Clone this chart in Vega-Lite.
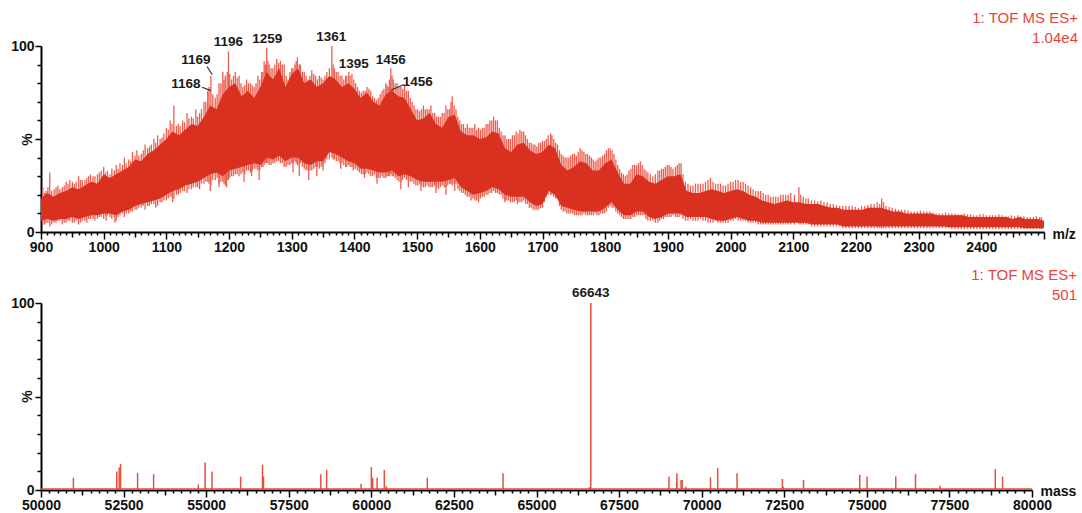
{
"$schema": "https://vega.github.io/schema/vega-lite/v6.json",
"padding": {"left": 10, "top": 11, "right": 1, "bottom": 0},
"background": "white",
"config": {
  "font": "Liberation Sans",
  "view": {"stroke": null},
  "axis": {"domainColor": "#000", "domainWidth": 2, "tickColor": "#000", "tickWidth": 1.5, "labelColor": "#111", "labelFont": "Liberation Sans", "labelFontSize": 14, "labelFontWeight": "bold", "grid": false, "labelOverlap": false, "labelBound": false, "labelFlush": false, "titleFont": "Liberation Sans", "titleFontSize": 14, "titleFontWeight": "bold", "titleColor": "#111"}
},
"datasets": {
"env": [
{"mz":900,"hi":18,"lo":6},{"mz":910,"hi":21,"lo":7},{"mz":920,"hi":19,"lo":6},{"mz":930,"hi":21,"lo":7},{"mz":940,"hi":22,"lo":7},{"mz":950,"hi":24,"lo":8},{"mz":960,"hi":23,"lo":7},{"mz":970,"hi":25,"lo":8},{"mz":980,"hi":27,"lo":9},{"mz":990,"hi":26,"lo":9},
{"mz":1000,"hi":31,"lo":10},{"mz":1010,"hi":29,"lo":10},{"mz":1020,"hi":31,"lo":9},{"mz":1030,"hi":33,"lo":11},{"mz":1040,"hi":35,"lo":12},{"mz":1050,"hi":39,"lo":14},{"mz":1060,"hi":38,"lo":15},{"mz":1070,"hi":42,"lo":16},{"mz":1080,"hi":44,"lo":17},{"mz":1090,"hi":47,"lo":18},
{"mz":1100,"hi":50,"lo":20},{"mz":1110,"hi":54,"lo":22},{"mz":1120,"hi":52,"lo":23},{"mz":1130,"hi":55,"lo":25},{"mz":1140,"hi":58,"lo":26},{"mz":1150,"hi":57,"lo":27},{"mz":1160,"hi":62,"lo":29},{"mz":1170,"hi":68,"lo":31},{"mz":1180,"hi":66,"lo":32},{"mz":1190,"hi":74,"lo":30},
{"mz":1200,"hi":78,"lo":33},{"mz":1210,"hi":80,"lo":34},{"mz":1220,"hi":73,"lo":35},{"mz":1230,"hi":76,"lo":36},{"mz":1240,"hi":72,"lo":37},{"mz":1250,"hi":78,"lo":36},{"mz":1260,"hi":86,"lo":40},{"mz":1270,"hi":82,"lo":39},{"mz":1280,"hi":88,"lo":41},{"mz":1290,"hi":78,"lo":38},
{"mz":1300,"hi":85,"lo":40},{"mz":1310,"hi":88,"lo":40},{"mz":1320,"hi":80,"lo":37},{"mz":1330,"hi":82,"lo":36},{"mz":1340,"hi":78,"lo":38},{"mz":1350,"hi":80,"lo":38},{"mz":1360,"hi":84,"lo":43},{"mz":1370,"hi":82,"lo":42},{"mz":1380,"hi":78,"lo":40},{"mz":1390,"hi":80,"lo":38},
{"mz":1400,"hi":77,"lo":37},{"mz":1410,"hi":72,"lo":34},{"mz":1420,"hi":75,"lo":34},{"mz":1430,"hi":70,"lo":33},{"mz":1440,"hi":68,"lo":32},{"mz":1450,"hi":74,"lo":32},{"mz":1460,"hi":76,"lo":33},{"mz":1470,"hi":73,"lo":30},{"mz":1480,"hi":72,"lo":31},{"mz":1490,"hi":66,"lo":30},
{"mz":1500,"hi":60,"lo":28},{"mz":1510,"hi":61,"lo":27},{"mz":1520,"hi":64,"lo":27},{"mz":1530,"hi":58,"lo":27},{"mz":1540,"hi":56,"lo":27},{"mz":1550,"hi":62,"lo":28},{"mz":1560,"hi":63,"lo":29},{"mz":1570,"hi":54,"lo":24},{"mz":1580,"hi":52,"lo":22},{"mz":1590,"hi":52,"lo":20},
{"mz":1600,"hi":50,"lo":21},{"mz":1610,"hi":51,"lo":22},{"mz":1620,"hi":54,"lo":24},{"mz":1630,"hi":53,"lo":23},{"mz":1640,"hi":45,"lo":20},{"mz":1650,"hi":43,"lo":19},{"mz":1660,"hi":47,"lo":19},{"mz":1670,"hi":48,"lo":19},{"mz":1680,"hi":44,"lo":16},{"mz":1690,"hi":42,"lo":14},
{"mz":1700,"hi":43,"lo":15},{"mz":1710,"hi":47,"lo":22},{"mz":1720,"hi":45,"lo":20},{"mz":1730,"hi":36,"lo":14},{"mz":1740,"hi":33,"lo":13},{"mz":1750,"hi":35,"lo":12},{"mz":1760,"hi":38,"lo":11},{"mz":1770,"hi":37,"lo":11},{"mz":1780,"hi":33,"lo":11},{"mz":1790,"hi":33,"lo":11},
{"mz":1800,"hi":37,"lo":13},{"mz":1810,"hi":39,"lo":16},{"mz":1820,"hi":32,"lo":12},{"mz":1830,"hi":26,"lo":9},{"mz":1840,"hi":26,"lo":9},{"mz":1850,"hi":31,"lo":11},{"mz":1860,"hi":30,"lo":11},{"mz":1870,"hi":27,"lo":8},{"mz":1880,"hi":26,"lo":7},{"mz":1890,"hi":28,"lo":8},
{"mz":1900,"hi":30,"lo":10},{"mz":1910,"hi":30,"lo":10},{"mz":1920,"hi":31,"lo":10},{"mz":1930,"hi":22,"lo":8},{"mz":1940,"hi":21,"lo":8},{"mz":1950,"hi":21,"lo":8},{"mz":1960,"hi":22,"lo":8},{"mz":1970,"hi":23,"lo":7},{"mz":1980,"hi":22,"lo":6},{"mz":1990,"hi":21,"lo":6},
{"mz":2000,"hi":22,"lo":7},{"mz":2010,"hi":23,"lo":8},{"mz":2020,"hi":22,"lo":7},{"mz":2030,"hi":20,"lo":6},{"mz":2040,"hi":19,"lo":6},{"mz":2050,"hi":17,"lo":5},{"mz":2060,"hi":16,"lo":5},{"mz":2070,"hi":15,"lo":5},{"mz":2080,"hi":16,"lo":5},{"mz":2090,"hi":17,"lo":5},
{"mz":2100,"hi":16,"lo":5},{"mz":2110,"hi":16,"lo":5},{"mz":2120,"hi":15,"lo":5},{"mz":2130,"hi":15,"lo":4},{"mz":2140,"hi":15,"lo":4},{"mz":2150,"hi":14,"lo":4},{"mz":2160,"hi":13,"lo":4},{"mz":2170,"hi":13,"lo":4},{"mz":2180,"hi":12,"lo":3},{"mz":2190,"hi":12,"lo":3},
{"mz":2200,"hi":12,"lo":3},{"mz":2210,"hi":12,"lo":3},{"mz":2220,"hi":13,"lo":3},{"mz":2230,"hi":13,"lo":3},{"mz":2240,"hi":13,"lo":3},{"mz":2250,"hi":12,"lo":3},{"mz":2260,"hi":11,"lo":3},{"mz":2270,"hi":11,"lo":3},{"mz":2280,"hi":10,"lo":3},{"mz":2290,"hi":10,"lo":3},
{"mz":2300,"hi":10,"lo":3},{"mz":2310,"hi":10,"lo":3},{"mz":2320,"hi":10,"lo":3},{"mz":2330,"hi":9,"lo":3},{"mz":2340,"hi":9,"lo":3},{"mz":2350,"hi":9,"lo":2.5},{"mz":2360,"hi":9,"lo":2.5},{"mz":2370,"hi":9,"lo":2.5},{"mz":2380,"hi":8,"lo":2.5},{"mz":2390,"hi":8,"lo":2.5},
{"mz":2400,"hi":8,"lo":2.5},{"mz":2410,"hi":8,"lo":2.5},{"mz":2420,"hi":8,"lo":2.5},{"mz":2430,"hi":8,"lo":2.5},{"mz":2440,"hi":8,"lo":2.5},{"mz":2450,"hi":7,"lo":2.5},{"mz":2460,"hi":8,"lo":2.5},{"mz":2470,"hi":7,"lo":2},{"mz":2480,"hi":7,"lo":2},{"mz":2490,"hi":7,"lo":2},{"mz":2500,"hi":6,"lo":2}
],
"sticks": [
{"mz":903,"lo":4,"hi":24},{"mz":908,"lo":5,"hi":22},{"mz":914,"lo":3,"hi":32},{"mz":921,"lo":5,"hi":23},{"mz":927,"lo":6,"hi":25},{"mz":934,"lo":4,"hi":24},{"mz":940,"lo":5,"hi":27},{"mz":946,"lo":6,"hi":28},{"mz":953,"lo":5,"hi":26},{"mz":960,"lo":4,"hi":30},
{"mz":966,"lo":6,"hi":28},{"mz":973,"lo":5,"hi":29},{"mz":979,"lo":7,"hi":31},{"mz":986,"lo":6,"hi":30},{"mz":993,"lo":8,"hi":32},{"mz":1000,"lo":7,"hi":35},{"mz":1006,"lo":9,"hi":33},{"mz":1013,"lo":7,"hi":34},{"mz":1020,"lo":6,"hi":36},{"mz":1026,"lo":9,"hi":37},
{"mz":1033,"lo":8,"hi":40},{"mz":1040,"lo":10,"hi":39},{"mz":1046,"lo":11,"hi":43},{"mz":1053,"lo":12,"hi":44},{"mz":1060,"lo":13,"hi":42},{"mz":1066,"lo":12,"hi":47},{"mz":1073,"lo":14,"hi":46},{"mz":1080,"lo":15,"hi":50},{"mz":1086,"lo":14,"hi":52},{"mz":1093,"lo":16,"hi":51},
{"mz":1100,"lo":17,"hi":56},{"mz":1106,"lo":19,"hi":60},{"mz":1112,"lo":18,"hi":68},{"mz":1119,"lo":20,"hi":58},{"mz":1126,"lo":22,"hi":60},{"mz":1133,"lo":21,"hi":64},{"mz":1140,"lo":23,"hi":62},{"mz":1147,"lo":24,"hi":66},{"mz":1153,"lo":23,"hi":64},{"mz":1160,"lo":26,"hi":70},
{"mz":1166,"lo":27,"hi":76},{"mz":1171,"lo":25,"hi":84},{"mz":1178,"lo":28,"hi":72},{"mz":1184,"lo":26,"hi":80},{"mz":1190,"lo":27,"hi":86},{"mz":1194,"lo":25,"hi":84},{"mz":1199,"lo":28,"hi":97},{"mz":1204,"lo":30,"hi":82},{"mz":1210,"lo":31,"hi":86},{"mz":1216,"lo":30,"hi":84},
{"mz":1222,"lo":32,"hi":78},{"mz":1228,"lo":33,"hi":82},{"mz":1234,"lo":32,"hi":80},{"mz":1240,"lo":34,"hi":78},{"mz":1246,"lo":33,"hi":84},{"mz":1252,"lo":35,"hi":86},{"mz":1256,"lo":36,"hi":92},{"mz":1260,"lo":37,"hi":99},{"mz":1264,"lo":36,"hi":90},{"mz":1270,"lo":37,"hi":88},
{"mz":1276,"lo":38,"hi":93},{"mz":1282,"lo":37,"hi":92},{"mz":1288,"lo":35,"hi":90},{"mz":1294,"lo":36,"hi":82},{"mz":1300,"lo":37,"hi":88},{"mz":1305,"lo":38,"hi":90},{"mz":1309,"lo":36,"hi":94},{"mz":1314,"lo":37,"hi":90},{"mz":1320,"lo":34,"hi":86},{"mz":1326,"lo":33,"hi":82},
{"mz":1332,"lo":33,"hi":87},{"mz":1338,"lo":35,"hi":84},{"mz":1344,"lo":34,"hi":84},{"mz":1350,"lo":36,"hi":82},{"mz":1356,"lo":39,"hi":86},{"mz":1364,"lo":40,"hi":100},{"mz":1368,"lo":39,"hi":88},{"mz":1374,"lo":38,"hi":86},{"mz":1380,"lo":37,"hi":84},{"mz":1386,"lo":35,"hi":84},
{"mz":1391,"lo":36,"hi":86},{"mz":1396,"lo":35,"hi":85},{"mz":1402,"lo":34,"hi":80},{"mz":1408,"lo":32,"hi":76},{"mz":1414,"lo":31,"hi":76},{"mz":1420,"lo":32,"hi":78},{"mz":1426,"lo":30,"hi":76},{"mz":1432,"lo":31,"hi":72},{"mz":1438,"lo":29,"hi":72},{"mz":1444,"lo":30,"hi":76},
{"mz":1450,"lo":29,"hi":80},{"mz":1454,"lo":30,"hi":78},{"mz":1458,"lo":31,"hi":88},{"mz":1462,"lo":30,"hi":82},{"mz":1468,"lo":28,"hi":80},{"mz":1474,"lo":27,"hi":78},{"mz":1480,"lo":29,"hi":79},{"mz":1486,"lo":28,"hi":76},{"mz":1492,"lo":27,"hi":70},{"mz":1498,"lo":25,"hi":66},
{"mz":1504,"lo":26,"hi":65},{"mz":1510,"lo":24,"hi":68},{"mz":1516,"lo":25,"hi":66},{"mz":1522,"lo":24,"hi":68},{"mz":1528,"lo":25,"hi":64},{"mz":1534,"lo":23,"hi":62},{"mz":1540,"lo":25,"hi":64},{"mz":1546,"lo":24,"hi":68},{"mz":1552,"lo":26,"hi":66},{"mz":1556,"lo":25,"hi":73},
{"mz":1562,"lo":26,"hi":66},{"mz":1568,"lo":22,"hi":60},{"mz":1574,"lo":21,"hi":58},{"mz":1580,"lo":19,"hi":58},{"mz":1586,"lo":20,"hi":56},{"mz":1592,"lo":17,"hi":58},{"mz":1598,"lo":18,"hi":56},{"mz":1604,"lo":19,"hi":56},{"mz":1610,"lo":20,"hi":58},{"mz":1616,"lo":21,"hi":60},
{"mz":1622,"lo":22,"hi":62},{"mz":1628,"lo":21,"hi":60},{"mz":1634,"lo":20,"hi":54},{"mz":1640,"lo":17,"hi":52},{"mz":1646,"lo":17,"hi":50},{"mz":1652,"lo":16,"hi":52},{"mz":1658,"lo":17,"hi":54},{"mz":1664,"lo":16,"hi":55},{"mz":1670,"lo":17,"hi":54},{"mz":1676,"lo":15,"hi":50},
{"mz":1682,"lo":13,"hi":48},{"mz":1688,"lo":12,"hi":47},{"mz":1694,"lo":12,"hi":48},{"mz":1700,"lo":13,"hi":49},{"mz":1706,"lo":19,"hi":50},{"mz":1713,"lo":20,"hi":53},{"mz":1718,"lo":19,"hi":50},{"mz":1724,"lo":18,"hi":47},{"mz":1730,"lo":12,"hi":42},{"mz":1736,"lo":11,"hi":40},
{"mz":1742,"lo":10,"hi":40},{"mz":1748,"lo":10,"hi":42},{"mz":1754,"lo":9,"hi":41},{"mz":1760,"lo":9,"hi":45},{"mz":1766,"lo":10,"hi":43},{"mz":1772,"lo":9,"hi":42},{"mz":1778,"lo":9,"hi":40},{"mz":1784,"lo":10,"hi":38},{"mz":1790,"lo":9,"hi":40},{"mz":1796,"lo":10,"hi":41},
{"mz":1802,"lo":11,"hi":44},{"mz":1808,"lo":14,"hi":45},{"mz":1814,"lo":13,"hi":42},{"mz":1820,"lo":10,"hi":36},{"mz":1826,"lo":8,"hi":32},{"mz":1832,"lo":7,"hi":30},{"mz":1838,"lo":7,"hi":33},{"mz":1844,"lo":8,"hi":36},{"mz":1850,"lo":9,"hi":36},{"mz":1856,"lo":9,"hi":38},
{"mz":1862,"lo":9,"hi":34},{"mz":1868,"lo":6,"hi":32},{"mz":1876,"lo":6,"hi":30},{"mz":1884,"lo":5,"hi":33},{"mz":1890,"lo":7,"hi":34},{"mz":1896,"lo":8,"hi":35},{"mz":1902,"lo":8,"hi":36},{"mz":1908,"lo":9,"hi":34},{"mz":1915,"lo":8,"hi":36},{"mz":1921,"lo":9,"hi":37},
{"mz":1928,"lo":6,"hi":27},{"mz":1936,"lo":7,"hi":25},{"mz":1944,"lo":6,"hi":26},{"mz":1952,"lo":7,"hi":26},{"mz":1960,"lo":6,"hi":27},{"mz":1968,"lo":5,"hi":29},{"mz":1976,"lo":6,"hi":26},{"mz":1984,"lo":5,"hi":26},{"mz":1992,"lo":5,"hi":25},{"mz":2000,"lo":6,"hi":27},
{"mz":2008,"lo":7,"hi":28},{"mz":2016,"lo":6,"hi":27},{"mz":2024,"lo":6,"hi":26},{"mz":2032,"lo":5,"hi":24},{"mz":2040,"lo":5,"hi":22},{"mz":2048,"lo":4,"hi":22},{"mz":2056,"lo":4,"hi":20},{"mz":2064,"lo":4,"hi":19},{"mz":2072,"lo":4,"hi":19},{"mz":2080,"lo":4,"hi":20},
{"mz":2088,"lo":4,"hi":20},{"mz":2096,"lo":4,"hi":21},{"mz":2109,"lo":4,"hi":24},{"mz":2116,"lo":4,"hi":19},{"mz":2124,"lo":4,"hi":18},{"mz":2134,"lo":3,"hi":17},{"mz":2144,"lo":3,"hi":17},{"mz":2154,"lo":3,"hi":16},{"mz":2164,"lo":3,"hi":15},{"mz":2174,"lo":3,"hi":14},
{"mz":2184,"lo":2,"hi":14},{"mz":2194,"lo":2,"hi":14},{"mz":2204,"lo":2,"hi":13},{"mz":2214,"lo":2,"hi":14},{"mz":2224,"lo":2,"hi":15},{"mz":2234,"lo":2,"hi":16},{"mz":2241,"lo":2,"hi":18},{"mz":2248,"lo":2,"hi":14},{"mz":2258,"lo":2,"hi":13},{"mz":2268,"lo":2,"hi":12},
{"mz":2278,"lo":2,"hi":12},{"mz":2288,"lo":2,"hi":11},{"mz":2298,"lo":2,"hi":11},{"mz":2308,"lo":2,"hi":11},{"mz":2318,"lo":2,"hi":11},{"mz":2328,"lo":2,"hi":10},{"mz":2338,"lo":2,"hi":10},{"mz":2348,"lo":2,"hi":10},{"mz":2358,"lo":1.5,"hi":10},{"mz":2368,"lo":1.5,"hi":9.5},
{"mz":2378,"lo":1.5,"hi":9.5},{"mz":2388,"lo":1.5,"hi":9},{"mz":2398,"lo":1.5,"hi":9.5},{"mz":2408,"lo":1.5,"hi":9},{"mz":2418,"lo":1.5,"hi":9},{"mz":2428,"lo":1.5,"hi":9.5},{"mz":2438,"lo":1.5,"hi":8.5},{"mz":2448,"lo":1.5,"hi":9},{"mz":2458,"lo":1.5,"hi":9},{"mz":2468,"lo":1.5,"hi":8.5},
{"mz":2478,"lo":1.5,"hi":8},{"mz":2488,"lo":1.5,"hi":8.5},{"mz":2496,"lo":1.5,"hi":8},
{"mz":906,"lo":4,"hi":21},{"mz":911,"lo":5,"hi":24},{"mz":917,"lo":4,"hi":22},{"mz":924,"lo":5,"hi":24},{"mz":930,"lo":6,"hi":23},{"mz":937,"lo":5,"hi":25},{"mz":943,"lo":6,"hi":26},{"mz":950,"lo":5,"hi":27},{"mz":956,"lo":6,"hi":27},{"mz":963,"lo":5,"hi":28},
{"mz":970,"lo":6,"hi":28},{"mz":976,"lo":7,"hi":30},{"mz":983,"lo":7,"hi":30},{"mz":990,"lo":7,"hi":31},{"mz":996,"lo":8,"hi":33},
{"mz":1003,"lo":9,"hi":32},{"mz":1010,"lo":8,"hi":31},{"mz":1017,"lo":8,"hi":33},{"mz":1023,"lo":8,"hi":34},{"mz":1030,"lo":10,"hi":36},{"mz":1036,"lo":10,"hi":37},{"mz":1043,"lo":11,"hi":38},{"mz":1050,"lo":12,"hi":41},{"mz":1056,"lo":13,"hi":41},{"mz":1063,"lo":14,"hi":44},
{"mz":1070,"lo":14,"hi":45},{"mz":1076,"lo":15,"hi":47},{"mz":1083,"lo":13,"hi":48},{"mz":1090,"lo":16,"hi":50},{"mz":1096,"lo":17,"hi":53},{"mz":1103,"lo":18,"hi":55},{"mz":1109,"lo":19,"hi":58},{"mz":1116,"lo":20,"hi":57},{"mz":1122,"lo":21,"hi":57},{"mz":1129,"lo":22,"hi":59},
{"mz":1136,"lo":23,"hi":61},{"mz":1143,"lo":24,"hi":61},{"mz":1150,"lo":24,"hi":62},{"mz":1156,"lo":26,"hi":66},{"mz":1163,"lo":27,"hi":70},{"mz":1168,"lo":26,"hi":78},{"mz":1174,"lo":28,"hi":74},{"mz":1181,"lo":29,"hi":74},{"mz":1187,"lo":27,"hi":80},{"mz":1192,"lo":26,"hi":82},
{"mz":1197,"lo":28,"hi":86},{"mz":1201,"lo":29,"hi":85},{"mz":1207,"lo":30,"hi":84},{"mz":1213,"lo":31,"hi":83},{"mz":1219,"lo":31,"hi":80},{"mz":1225,"lo":31,"hi":79},{"mz":1231,"lo":33,"hi":80},{"mz":1237,"lo":33,"hi":79},{"mz":1243,"lo":34,"hi":80},{"mz":1249,"lo":33,"hi":82},
{"mz":1254,"lo":35,"hi":86},{"mz":1258,"lo":37,"hi":90},{"mz":1262,"lo":37,"hi":92},{"mz":1267,"lo":36,"hi":88},{"mz":1273,"lo":37,"hi":90},{"mz":1279,"lo":38,"hi":91},{"mz":1285,"lo":37,"hi":90},{"mz":1291,"lo":35,"hi":84},{"mz":1297,"lo":36,"hi":86},{"mz":1302,"lo":37,"hi":88},
{"mz":1307,"lo":37,"hi":92},{"mz":1312,"lo":36,"hi":90},{"mz":1317,"lo":35,"hi":86},{"mz":1323,"lo":33,"hi":84},{"mz":1329,"lo":33,"hi":84},{"mz":1335,"lo":34,"hi":85},{"mz":1341,"lo":35,"hi":82},{"mz":1347,"lo":35,"hi":83},{"mz":1353,"lo":37,"hi":84},{"mz":1360,"lo":39,"hi":88},
{"mz":1366,"lo":39,"hi":90},{"mz":1371,"lo":38,"hi":86},{"mz":1377,"lo":37,"hi":84},{"mz":1383,"lo":36,"hi":82},{"mz":1388,"lo":35,"hi":84},{"mz":1393,"lo":35,"hi":84},{"mz":1399,"lo":34,"hi":82},{"mz":1405,"lo":33,"hi":78},{"mz":1411,"lo":31,"hi":75},{"mz":1417,"lo":31,"hi":76},
{"mz":1423,"lo":31,"hi":77},{"mz":1429,"lo":30,"hi":73},{"mz":1435,"lo":29,"hi":71},{"mz":1441,"lo":29,"hi":74},{"mz":1447,"lo":29,"hi":77},{"mz":1452,"lo":30,"hi":79},{"mz":1456,"lo":30,"hi":82},{"mz":1460,"lo":30,"hi":84},{"mz":1465,"lo":29,"hi":80},{"mz":1471,"lo":27,"hi":78},
{"mz":1477,"lo":28,"hi":77},{"mz":1483,"lo":28,"hi":76},{"mz":1489,"lo":27,"hi":72},{"mz":1495,"lo":26,"hi":68},{"mz":1501,"lo":25,"hi":66},{"mz":1507,"lo":25,"hi":66},{"mz":1513,"lo":24,"hi":66},{"mz":1519,"lo":24,"hi":66},{"mz":1525,"lo":24,"hi":64},{"mz":1531,"lo":24,"hi":62},
{"mz":1537,"lo":24,"hi":62},{"mz":1543,"lo":24,"hi":64},{"mz":1549,"lo":25,"hi":66},{"mz":1554,"lo":26,"hi":70},{"mz":1559,"lo":26,"hi":68},{"mz":1565,"lo":23,"hi":62},{"mz":1571,"lo":21,"hi":58},{"mz":1577,"lo":20,"hi":56},{"mz":1583,"lo":19,"hi":56},{"mz":1589,"lo":18,"hi":56},
{"mz":1595,"lo":17,"hi":55},{"mz":1601,"lo":18,"hi":55},{"mz":1607,"lo":19,"hi":56},{"mz":1613,"lo":20,"hi":58},{"mz":1619,"lo":21,"hi":60},{"mz":1625,"lo":21,"hi":60},{"mz":1631,"lo":20,"hi":56},{"mz":1637,"lo":18,"hi":52},{"mz":1643,"lo":17,"hi":50},{"mz":1649,"lo":16,"hi":50},
{"mz":1655,"lo":16,"hi":52},{"mz":1661,"lo":16,"hi":53},{"mz":1667,"lo":16,"hi":54},{"mz":1673,"lo":15,"hi":52},{"mz":1679,"lo":13,"hi":48},{"mz":1685,"lo":12,"hi":47},{"mz":1691,"lo":12,"hi":46},{"mz":1697,"lo":13,"hi":48},{"mz":1703,"lo":16,"hi":49},{"mz":1709,"lo":20,"hi":52},
{"mz":1715,"lo":20,"hi":52},{"mz":1721,"lo":18,"hi":48},{"mz":1727,"lo":14,"hi":44},{"mz":1733,"lo":11,"hi":41},{"mz":1739,"lo":10,"hi":40},{"mz":1745,"lo":10,"hi":41},{"mz":1751,"lo":9,"hi":42},{"mz":1757,"lo":9,"hi":43},{"mz":1763,"lo":9,"hi":44},{"mz":1769,"lo":9,"hi":42},
{"mz":1775,"lo":9,"hi":41},{"mz":1781,"lo":9,"hi":39},{"mz":1787,"lo":9,"hi":39},{"mz":1793,"lo":10,"hi":40},{"mz":1799,"lo":10,"hi":42},{"mz":1805,"lo":13,"hi":45},{"mz":1811,"lo":13,"hi":44},{"mz":1817,"lo":11,"hi":39},{"mz":1823,"lo":9,"hi":34},{"mz":1829,"lo":7,"hi":31},
{"mz":1835,"lo":7,"hi":31},{"mz":1841,"lo":7,"hi":34},{"mz":1847,"lo":8,"hi":36},{"mz":1853,"lo":9,"hi":37},{"mz":1859,"lo":9,"hi":36},{"mz":1865,"lo":7,"hi":33},{"mz":1872,"lo":6,"hi":31},{"mz":1880,"lo":5,"hi":31},{"mz":1887,"lo":6,"hi":33},{"mz":1893,"lo":7,"hi":34},
{"mz":1899,"lo":8,"hi":36},{"mz":1905,"lo":8,"hi":35},{"mz":1912,"lo":8,"hi":35},{"mz":1918,"lo":8,"hi":37},{"mz":1924,"lo":7,"hi":31},{"mz":1932,"lo":6,"hi":26},{"mz":1940,"lo":6,"hi":25},{"mz":1948,"lo":6,"hi":26},{"mz":1956,"lo":6,"hi":26},{"mz":1964,"lo":5,"hi":28},
{"mz":1972,"lo":5,"hi":27},{"mz":1980,"lo":5,"hi":26},{"mz":1988,"lo":5,"hi":25},{"mz":1996,"lo":5,"hi":26},{"mz":2004,"lo":6,"hi":27},{"mz":2012,"lo":6,"hi":28},{"mz":2020,"lo":6,"hi":27},{"mz":2028,"lo":5,"hi":25},{"mz":2036,"lo":5,"hi":23},{"mz":2044,"lo":4,"hi":22},
{"mz":2052,"lo":4,"hi":21},{"mz":2060,"lo":4,"hi":20},{"mz":2068,"lo":4,"hi":19},{"mz":2076,"lo":4,"hi":19},{"mz":2084,"lo":4,"hi":20},{"mz":2092,"lo":4,"hi":20},{"mz":2102,"lo":4,"hi":20},{"mz":2112,"lo":4,"hi":20},{"mz":2120,"lo":4,"hi":18},{"mz":2129,"lo":3,"hi":17},
{"mz":2139,"lo":3,"hi":16.5},{"mz":2149,"lo":3,"hi":16},{"mz":2159,"lo":3,"hi":15},{"mz":2169,"lo":3,"hi":14.5},{"mz":2179,"lo":2,"hi":14},{"mz":2189,"lo":2,"hi":14},{"mz":2199,"lo":2,"hi":13.5},{"mz":2209,"lo":2,"hi":14},{"mz":2219,"lo":2,"hi":14.5},{"mz":2229,"lo":2,"hi":15},
{"mz":2238,"lo":2,"hi":15},{"mz":2244,"lo":2,"hi":16},{"mz":2253,"lo":2,"hi":13.5},{"mz":2263,"lo":2,"hi":12.5},{"mz":2273,"lo":2,"hi":12},{"mz":2283,"lo":2,"hi":11.5},{"mz":2293,"lo":2,"hi":11},{"mz":2303,"lo":2,"hi":11.5},{"mz":2313,"lo":2,"hi":11},{"mz":2323,"lo":2,"hi":10.5},
{"mz":2333,"lo":2,"hi":10},{"mz":2343,"lo":2,"hi":10.5},{"mz":2353,"lo":1.5,"hi":10},{"mz":2363,"lo":1.5,"hi":9.5},{"mz":2373,"lo":1.5,"hi":10},{"mz":2383,"lo":1.5,"hi":9.5},{"mz":2393,"lo":1.5,"hi":9},{"mz":2403,"lo":1.5,"hi":9.5},{"mz":2413,"lo":1.5,"hi":9},{"mz":2423,"lo":1.5,"hi":9},
{"mz":2433,"lo":1.5,"hi":9},{"mz":2443,"lo":1.5,"hi":8.5},{"mz":2453,"lo":1.5,"hi":8.5},{"mz":2463,"lo":1.5,"hi":8.5},{"mz":2473,"lo":1.5,"hi":8},{"mz":2483,"lo":1.5,"hi":8},{"mz":2493,"lo":1.5,"hi":8},
{"mz":1004,"lo":6,"hi":12},{"mz":1018,"lo":5,"hi":12},{"mz":1110,"lo":16,"hi":24},{"mz":1170,"lo":22,"hi":34},{"mz":1184,"lo":24,"hi":34},{"mz":1196,"lo":24,"hi":36},{"mz":1224,"lo":27,"hi":38},{"mz":1236,"lo":30,"hi":40},
{"mz":1248,"lo":28,"hi":40},{"mz":1302,"lo":32,"hi":42},{"mz":1312,"lo":30,"hi":40},{"mz":1327,"lo":28,"hi":40},{"mz":1340,"lo":30,"hi":40},{"mz":1350,"lo":33,"hi":42},{"mz":1378,"lo":34,"hi":42},{"mz":1398,"lo":33,"hi":40},{"mz":1416,"lo":29,"hi":36},{"mz":1436,"lo":26,"hi":34},
{"mz":1474,"lo":23,"hi":33},{"mz":1486,"lo":24,"hi":32},{"mz":1506,"lo":22,"hi":30},{"mz":1530,"lo":21,"hi":30},{"mz":1546,"lo":20,"hi":30},{"mz":1560,"lo":22,"hi":30},{"mz":1586,"lo":17,"hi":24},{"mz":1598,"lo":16,"hi":24},{"mz":1640,"lo":16,"hi":22},{"mz":1660,"lo":15,"hi":22}
],
"leaders": [
{"mz":1165,"hi":89,"mz2":1173,"lo":84.7},
{"mz":1157,"hi":77.8,"mz2":1171,"lo":76},
{"mz":1479,"hi":79.3,"mz2":1458,"lo":76.2}
],
"peaks": [
{"mz":1131,"hi":79.8,"label":"1168"},
{"mz":1147,"hi":92.7,"label":"1169"},
{"mz":1199,"hi":102,"label":"1196"},
{"mz":1261,"hi":103.5,"label":"1259"},
{"mz":1363,"hi":105,"label":"1361"},
{"mz":1399,"hi":90.5,"label":"1395"},
{"mz":1458,"hi":92.5,"label":"1456"},
{"mz":1501,"hi":80.4,"label":"1456"}
],
"decon": [
{"mass":50981,"h":6.6},{"mass":52293,"h":9.9},{"mass":52366,"h":12},{"mass":52407,"h":14},{"mass":52924,"h":9},{"mass":53409,"h":8.4},{"mass":54762,"h":3},{"mass":54969,"h":14.7},{"mass":55176,"h":9.9},{"mass":56043,"h":7.2},
{"mass":56705,"h":13.5},{"mass":56736,"h":7.2},{"mass":58471,"h":8.4},{"mass":58647,"h":10.8},{"mass":59690,"h":3.4},{"mass":60000,"h":12.2},{"mass":60041,"h":6.6},{"mass":60176,"h":6.6},{"mass":60393,"h":10.8},{"mass":60455,"h":2},
{"mass":61694,"h":6.6},{"mass":63987,"h":9},{"mass":66600,"h":1.5},{"mass":66643,"h":100},{"mass":69010,"h":7.2},{"mass":69240,"h":4.5},{"mass":69250,"h":9},{"mass":69376,"h":5.4},{"mass":69410,"h":5.4},{"mass":69513,"h":1.8},
{"mass":70267,"h":6.7},{"mass":70485,"h":11.7},{"mass":71071,"h":9},{"mass":72443,"h":5.9},{"mass":72470,"h":1.8},{"mass":73082,"h":5.4},{"mass":74786,"h":8.1},{"mass":75007,"h":7.2},{"mass":75876,"h":7.2},{"mass":76473,"h":8.6},
{"mass":77217,"h":2.3},{"mass":78888,"h":11.2},{"mass":79109,"h":7.2}
]
},
"vconcat": [
{
  "width": 1003,
  "height": 186,
  "resolve": {"axis": {"x": "independent", "y": "independent"}},
  "layer": [
    {"data": {"name": "sticks"}, "mark": {"type": "rule", "color": "#ee5e4f", "strokeWidth": 1.3},
     "encoding": {
      "x": {"field": "mz", "type": "quantitative", "title": "m/z", "scale": {"domain": [900, 2500], "nice": false, "zero": false},
        "axis": {"tickCount": 160, "format": "d",
          "labelExpr": "datum.value % 100 === 0 && datum.value < 2500 ? datum.label : ''",
          "tickSize": {"condition": [{"test": "datum.value % 100 === 0", "value": 7}, {"test": "datum.value % 50 === 0", "value": 5}], "value": 3},
          "labelPadding": 1, "titleX": 1011, "titleY": 2, "titleAlign": "left", "titleBaseline": "middle", "titleAngle": 0}},
      "y": {"field": "lo", "type": "quantitative", "title": "%", "scale": {"domain": [0, 100], "nice": false},
        "axis": {"tickCount": 10,
          "labelExpr": "datum.value === 0 || datum.value === 100 ? datum.label : ''",
          "tickSize": {"condition": {"test": "datum.value === 0 || datum.value === 50 || datum.value === 100", "value": 6}, "value": 4},
          "labelPadding": 1, "titleX": -14, "titleY": 93, "titleAngle": 270, "titleAlign": "center", "titleBaseline": "middle"}},
      "y2": {"field": "hi"}}},
    {"data": {"name": "env"}, "mark": {"type": "area", "color": "#d9301f", "interpolate": "linear"},
     "encoding": {"x": {"field": "mz", "type": "quantitative", "axis": null}, "y": {"field": "hi", "type": "quantitative", "axis": null}, "y2": {"field": "lo"}}},
    {"data": {"name": "leaders"}, "mark": {"type": "rule", "color": "#333333", "strokeWidth": 1.2},
     "encoding": {"x": {"field": "mz", "type": "quantitative", "axis": null}, "x2": {"field": "mz2"}, "y": {"field": "hi", "type": "quantitative", "axis": null}, "y2": {"field": "lo"}}},
    {"data": {"name": "peaks"}, "mark": {"type": "text", "fontSize": 13.5, "fontWeight": "bold", "color": "#1a1a1a", "align": "center", "baseline": "middle"},
     "encoding": {"x": {"field": "mz", "type": "quantitative", "axis": null}, "y": {"field": "hi", "type": "quantitative", "axis": null}, "text": {"field": "label"}}},
    {"data": {"values": [{"k": 1}]}, "mark": {"type": "text", "align": "right", "baseline": "middle", "fontSize": 15, "color": "#e9443a", "dx": 34},
     "encoding": {"x": {"datum": 2500, "type": "quantitative", "axis": null}, "y": {"datum": 115, "type": "quantitative", "axis": null}, "text": {"value": "1: TOF MS ES+"}}},
    {"data": {"values": [{"k": 1}]}, "mark": {"type": "text", "align": "right", "baseline": "middle", "fontSize": 15, "color": "#e9443a", "dx": 34},
     "encoding": {"x": {"datum": 2500, "type": "quantitative", "axis": null}, "y": {"datum": 104.3, "type": "quantitative", "axis": null}, "text": {"value": "1.04e4"}}}
  ]
},
{
  "width": 991,
  "height": 187,
  "resolve": {"axis": {"x": "independent", "y": "independent"}},
  "layer": [
    {"data": {"name": "decon"}, "mark": {"type": "rule", "color": "#ea4e3d", "strokeWidth": 1.5},
     "encoding": {
      "x": {"field": "mass", "type": "quantitative", "title": "mass", "scale": {"domain": [50000, 80000], "nice": false, "zero": false},
        "axis": {"format": "d",
          "values": [50000,50250,50500,50750,51000,51250,51500,51750,52000,52250,52500,52750,53000,53250,53500,53750,54000,54250,54500,54750,55000,55250,55500,55750,56000,56250,56500,56750,57000,57250,57500,57750,58000,58250,58500,58750,59000,59250,59500,59750,60000,60250,60500,60750,61000,61250,61500,61750,62000,62250,62500,62750,63000,63250,63500,63750,64000,64250,64500,64750,65000,65250,65500,65750,66000,66250,66500,66750,67000,67250,67500,67750,68000,68250,68500,68750,69000,69250,69500,69750,70000,70250,70500,70750,71000,71250,71500,71750,72000,72250,72500,72750,73000,73250,73500,73750,74000,74250,74500,74750,75000,75250,75500,75750,76000,76250,76500,76750,77000,77250,77500,77750,78000,78250,78500,78750,79000,79250,79500,79750,80000],
          "labelExpr": "datum.value % 2500 === 0 ? datum.label : ''",
          "tickSize": {"condition": [{"test": "datum.value % 2500 === 0", "value": 7}, {"test": "datum.value % 1250 === 0", "value": 5}], "value": 3},
          "labelPadding": 1, "titleX": 999, "titleY": 1, "titleAlign": "left", "titleBaseline": "middle", "titleAngle": 0}},
      "y": {"field": "h", "type": "quantitative", "title": "%", "scale": {"domain": [0, 100], "nice": false},
        "axis": {"tickCount": 10,
          "labelExpr": "datum.value === 0 || datum.value === 100 ? datum.label : ''",
          "tickSize": {"condition": {"test": "datum.value === 0 || datum.value === 50 || datum.value === 100", "value": 6}, "value": 4},
          "labelPadding": 1, "titleX": -14, "titleY": 93, "titleAngle": 270, "titleAlign": "center", "titleBaseline": "middle"}},
      "y2": {"datum": 0}}},
    {"data": {"values": [{"k": 1}]}, "mark": {"type": "rule", "color": "#ea4e3d", "strokeWidth": 1.5},
     "encoding": {"x": {"datum": 50000, "type": "quantitative", "axis": null}, "x2": {"datum": 80000}, "y": {"datum": 0.6, "type": "quantitative", "axis": null}}},
    {"data": {"values": [{"mass": 66643, "h": 100, "label": "66643"}]}, "mark": {"type": "text", "fontSize": 13.5, "fontWeight": "bold", "color": "#1a1a1a", "align": "center", "baseline": "bottom", "dy": -3},
     "encoding": {"x": {"field": "mass", "type": "quantitative", "axis": null}, "y": {"field": "h", "type": "quantitative", "axis": null}, "text": {"field": "label"}}},
    {"data": {"values": [{"k": 1}]}, "mark": {"type": "text", "align": "right", "baseline": "middle", "fontSize": 15, "color": "#e9443a", "dx": 45},
     "encoding": {"x": {"datum": 80000, "type": "quantitative", "axis": null}, "y": {"datum": 115, "type": "quantitative", "axis": null}, "text": {"value": "1: TOF MS ES+"}}},
    {"data": {"values": [{"k": 1}]}, "mark": {"type": "text", "align": "right", "baseline": "middle", "fontSize": 15, "color": "#e9443a", "dx": 45},
     "encoding": {"x": {"datum": 80000, "type": "quantitative", "axis": null}, "y": {"datum": 104.3, "type": "quantitative", "axis": null}, "text": {"value": "501"}}}
  ]
}
],
"spacing": 71,
"bounds": "flush"
}
